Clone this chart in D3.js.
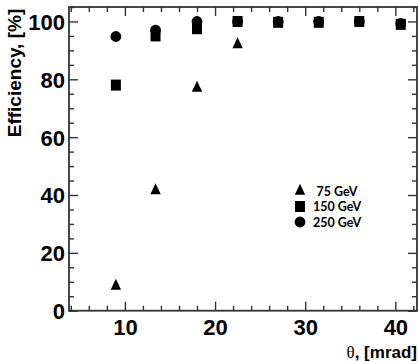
<!DOCTYPE html>
<html>
<head>
<meta charset="utf-8">
<script src="https://cdn.jsdelivr.net/npm/d3@7"></script>
<style>
  body { margin: 0; background: #fff; }
  svg { display: block; }
  .ticklab text { font-family: "Liberation Sans Narrow", "Liberation Sans", Arial, sans-serif; font-weight: bold; font-size: 22px; fill: #000; }
</style>
</head>
<body>
<svg id="chart"></svg>
<script>
// data
const theta75 = [9, 13.4, 18, 22.5];
const eff75 = [8.5, 41.5, 77, 92];
const theta150 = [9, 13.4, 18, 22.5, 27, 31.5, 36, 40.6];
const eff150 = [78, 95, 97.5, 100, 99.7, 99.7, 100, 99];
const theta250 = [9, 13.4, 18, 22.5, 27, 31.5, 36, 40.6];
const eff250 = [94.8, 97, 100, 100, 100, 100, 100, 99.3];
const legendLabels = ["75 GeV", "150 GeV", "250 GeV"];
const xMajor = [10, 20, 30, 40];
const yMajor = [0, 20, 40, 60, 80, 100];

const width = 418, height = 361;
const plotLeft = 69, plotRight = 417, plotTop = 7, plotBottom = 310.7;

const svg = d3.select("#chart")
    .attr("width", width)
    .attr("height", height);

// scales
const x = d3.scaleLinear().domain([3.8, 42.4]).range([plotLeft, plotRight]);
const y = d3.scaleLinear().domain([0, 105]).range([plotBottom, plotTop]);

const xMinor = d3.range(4, 43, 2).filter(v => v % 10 !== 0);
const yMinor = d3.range(0, 106, 5).filter(v => v % 20 !== 0);

// axes with inward ticks on all four sides
function addAxis(gen, tx, ty, major, minor, labels) {
    const g = svg.append("g")
        .attr("transform", `translate(${tx},${ty})`)
        .attr("class", labels ? "ticklab" : null)
        .call(gen.tickValues(major).tickSizeInner(-9).tickSizeOuter(0).tickPadding(labels ? 4 : 0)
            .tickFormat(labels ? d3.format("d") : ""));
    g.select(".domain").remove();
    const g2 = svg.append("g")
        .attr("transform", `translate(${tx},${ty})`)
        .call(gen.tickValues(minor).tickSizeInner(-5).tickFormat(""));
    g2.select(".domain").remove();
    svg.selectAll(".tick line").attr("stroke", "#333").attr("stroke-width", 1.4);
    return g;
}
const bx = addAxis(d3.axisBottom(x), 0, plotBottom, xMajor, xMinor, true);
bx.selectAll("text").attr("dy", "0.75em").attr("y", 8);
addAxis(d3.axisTop(x), 0, plotTop, xMajor, xMinor, false);
const ly = addAxis(d3.axisLeft(y), plotLeft, 0, yMajor, yMinor, true);
ly.selectAll("text").attr("x", -4).attr("dy", "0.36em");
addAxis(d3.axisRight(y), plotRight, 0, yMajor, yMinor, false);

// frame
svg.append("rect")
    .attr("x", plotLeft).attr("y", plotTop)
    .attr("width", plotRight - plotLeft).attr("height", plotBottom - plotTop)
    .attr("fill", "none").attr("stroke", "#333").attr("stroke-width", 1.8);

// markers
const tri = "M0,-7.3L5.2,3.7L-5.2,3.7Z";
const sq = "M-5,-5.5H5V5.5H-5Z";
const circ = d3.symbol().type(d3.symbolCircle).size(92)();

function drawSeries(xs, ys, path) {
    svg.append("g").selectAll("path")
        .data(xs.map((v, i) => [v, ys[i]]))
        .enter()
        .append("path")
        .attr("d", path)
        .attr("transform", d => `translate(${x(d[0])},${y(d[1])})`)
        .attr("fill", "#000");
}
drawSeries(theta75, eff75, tri);
drawSeries(theta250, eff250, circ);
drawSeries(theta150, eff150, sq);

// legend
const legend = svg.append("g").attr("transform", "translate(300,191)");
[tri, sq, circ].forEach((p, i) => {
    legend.append("path").attr("d", p)
        .attr("transform", `translate(0,${i * 15.5})`).attr("fill", "#000");
    legend.append("text")
        .attr("x", i === 0 ? 16.5 : 13)
        .attr("y", i * 15.5 + 4.5)
        .attr("font-family", "Lato, 'Open Sans', sans-serif")
        .attr("font-weight", "bold")
        .attr("font-size", 12.5)
        .text(legendLabels[i]);
});

// axis titles
svg.append("text")
    .attr("transform", "translate(21,73) rotate(-90)")
    .attr("text-anchor", "middle")
    .attr("font-family", "'Liberation Sans', Arial, sans-serif")
    .attr("font-weight", "bold")
    .attr("font-size", 19)
    .text("Efficiency, [%]");

const xt = svg.append("text")
    .attr("x", 417).attr("y", 358)
    .attr("text-anchor", "end")
    .attr("font-size", 17);
xt.append("tspan").attr("font-family", "'Liberation Serif', serif").text("θ");
xt.append("tspan").attr("font-family", "'Liberation Sans Narrow', 'Liberation Sans', sans-serif")
    .attr("font-weight", "bold").text(", [mrad]");
</script>
</body>
</html>
